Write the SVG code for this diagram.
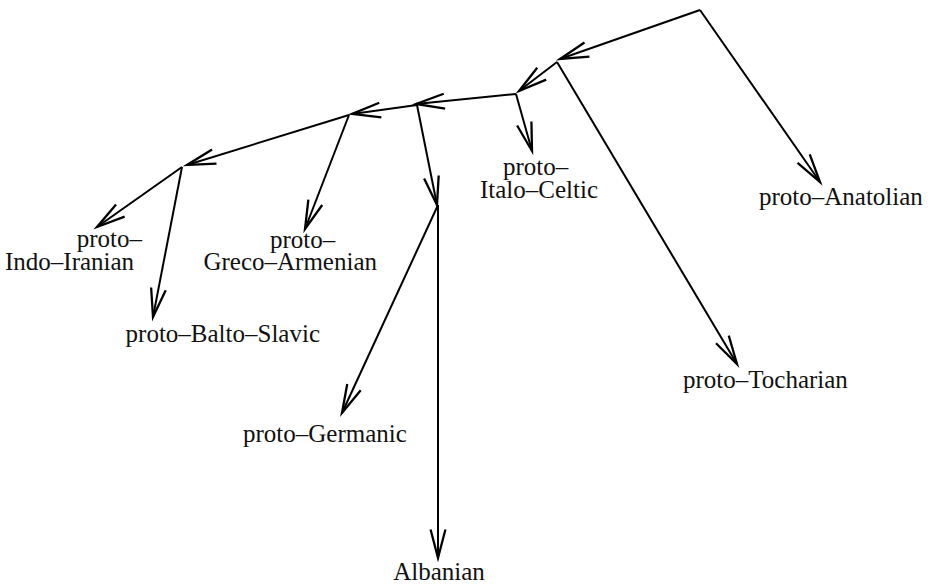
<svg xmlns="http://www.w3.org/2000/svg" width="931" height="587" viewBox="0 0 931 587">
<defs>
<marker id="arr" markerUnits="userSpaceOnUse" markerWidth="40" markerHeight="40" refX="0" refY="0" viewBox="-30 -15 35 30" orient="auto" overflow="visible">
<path d="M -25 -6.5 L 0 0 L -25 6.5" fill="none" stroke="#000" stroke-width="2" stroke-linejoin="miter"/>
</marker>
<style>
.e{stroke:#000;stroke-width:2;fill:none;marker-end:url(#arr)}
.t{font-family:"Liberation Serif","Times New Roman",serif;font-size:25px;fill:#111}
</style>
</defs>
<rect width="931" height="587" fill="#fff"/>
<g id="connectors">
<line class="e" x1="700" y1="10" x2="560" y2="59"/>
<line class="e" x1="700" y1="10" x2="820" y2="182"/>
<line class="e" x1="557" y1="62" x2="519" y2="91"/>
<line class="e" x1="557" y1="62" x2="737" y2="364"/>
<line class="e" x1="516" y1="94" x2="532" y2="151"/>
<line class="e" x1="516" y1="94" x2="416" y2="104"/>
<line class="e" x1="417" y1="105" x2="352" y2="114"/>
<line class="e" x1="417" y1="105" x2="437" y2="205"/>
<line class="e" x1="349" y1="115" x2="305" y2="229"/>
<line class="e" x1="349" y1="115" x2="187" y2="165"/>
<line class="e" x1="182" y1="167" x2="97" y2="227"/>
<line class="e" x1="182" y1="167" x2="153" y2="317"/>
<line class="e" x1="438" y1="205" x2="342" y2="413"/>
<line class="e" x1="438" y1="205" x2="438" y2="558"/>
</g>
<g id="anatolian"><text class="t" x="759" y="205">proto–Anatolian</text></g>
<g id="tocharian"><text class="t" x="683" y="388">proto–Tocharian</text></g>
<g id="italo-celtic"><text class="t" x="503" y="175">proto–</text><text class="t" x="598" y="198" text-anchor="end">Italo–Celtic</text></g>
<g id="greco-armenian"><text class="t" x="270" y="248">proto–</text><text class="t" x="377" y="270" text-anchor="end">Greco–Armenian</text></g>
<g id="indo-iranian"><text class="t" x="142" y="247" text-anchor="end">proto–</text><text class="t" x="5" y="270">Indo–Iranian</text></g>
<g id="balto-slavic"><text class="t" x="320" y="342" text-anchor="end">proto–Balto–Slavic</text></g>
<g id="germanic"><text class="t" x="243" y="442">proto–Germanic</text></g>
<g id="albanian"><text class="t" x="439" y="580" text-anchor="middle">Albanian</text></g>
</svg>
